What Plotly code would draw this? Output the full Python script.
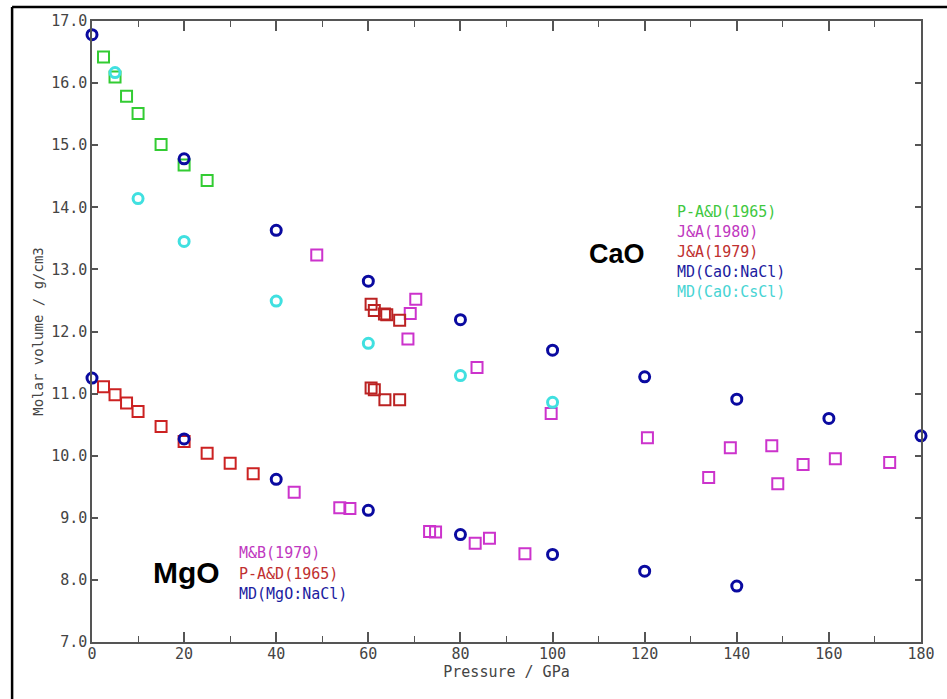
import plotly.graph_objects as go

# ---------------- data ----------------
# CaO
cao_pad1965_p = [2.5, 5, 7.5, 10, 15, 20, 25]
cao_pad1965_v = [16.42, 16.10, 15.79, 15.51, 15.01, 14.68, 14.43]

cao_ja1980_p = [48.8, 68.6, 69.1, 70.3, 83.6, 99.7, 120.6, 133.9, 138.6, 147.6, 148.9, 154.4, 161.4, 173.2]
cao_ja1980_v = [13.23, 11.88, 12.29, 12.52, 11.42, 10.68, 10.29, 9.65, 10.13, 10.16, 9.55, 9.86, 9.95, 9.89]

cao_ja1979_p = [60.6, 61.3, 63.5, 64.0, 66.8, 60.6, 61.3, 63.6, 66.8]
cao_ja1979_v = [12.44, 12.34, 12.28, 12.27, 12.18, 11.09, 11.06, 10.90, 10.90]

cao_md_nacl_p = [0, 20, 40, 60, 80, 100, 120, 140, 160, 180]
cao_md_nacl_v = [16.78, 14.78, 13.63, 12.81, 12.19, 11.70, 11.27, 10.91, 10.60, 10.32]

cao_md_cscl_p = [5, 10, 20, 40, 60, 80, 100]
cao_md_cscl_v = [16.17, 14.14, 13.45, 12.49, 11.81, 11.29, 10.86]

# MgO
mgo_mb1979_p = [43.9, 53.8, 56.0, 73.3, 74.6, 83.2, 86.3, 94.0]
mgo_mb1979_v = [9.41, 9.16, 9.15, 8.78, 8.77, 8.59, 8.67, 8.42]

mgo_pad1965_p = [2.5, 5, 7.5, 10, 15, 20, 25, 30, 35]
mgo_pad1965_v = [11.11, 10.98, 10.85, 10.71, 10.47, 10.23, 10.04, 9.88, 9.71]

mgo_md_nacl_p = [0, 20, 40, 60, 80, 100, 120, 140]
mgo_md_nacl_v = [11.25, 10.27, 9.62, 9.12, 8.73, 8.41, 8.14, 7.90]

x_ticks = [0, 20, 40, 60, 80, 100, 120, 140, 160, 180]
y_ticks = [7, 8, 9, 10, 11, 12, 13, 14, 15, 16, 17]
y_tick_text = [f"{v:.1f}" for v in y_ticks]

GREEN = "#33cc33"
MAGENTA = "#cc33cc"
RED = "#cc2222"
RED2 = "#bb2222"
NAVY = "#0a0aa0"
CYAN = "#40e0e0"

MONO = "DejaVu Sans Mono"

fig = go.Figure()


def squares(p, v, color, name):
    fig.add_trace(go.Scatter(
        x=p, y=v, mode="markers", name=name, showlegend=False,
        marker=dict(symbol="square-open", size=11, color=color,
                    line=dict(width=2, color=color)),
        cliponaxis=False))


def circles(p, v, color, name):
    fig.add_trace(go.Scatter(
        x=p, y=v, mode="markers", name=name, showlegend=False,
        marker=dict(symbol="circle-open", size=10, color=color,
                    line=dict(width=3, color=color)),
        cliponaxis=False))


squares(cao_pad1965_p, cao_pad1965_v, GREEN, "P-A&D(1965) CaO")
squares(cao_ja1980_p, cao_ja1980_v, MAGENTA, "J&A(1980)")
squares(cao_ja1979_p, cao_ja1979_v, RED2, "J&A(1979)")
squares(mgo_mb1979_p, mgo_mb1979_v, MAGENTA, "M&B(1979)")
squares(mgo_pad1965_p, mgo_pad1965_v, RED, "P-A&D(1965) MgO")
circles(cao_md_cscl_p, cao_md_cscl_v, CYAN, "MD(CaO:CsCl)")
circles(cao_md_nacl_p, cao_md_nacl_v, NAVY, "MD(CaO:NaCl)")
circles(mgo_md_nacl_p, mgo_md_nacl_v, NAVY, "MD(MgO:NaCl)")

# text labels acting as legends
cao_legend = [("P-A&D(1965)", "#3fc83f"), ("J&A(1980)", "#c038c0"),
              ("J&A(1979)", "#c03030"), ("MD(CaO:NaCl)", "#1c1ca0"),
              ("MD(CaO:CsCl)", "#48d4d4")]
for i, (t, c) in enumerate(cao_legend):
    fig.add_annotation(x=(676 - 92) / 830, y=(642 - (211 + 20 * i)) / 623,
                       xref="paper", yref="paper", text=t, showarrow=False,
                       xanchor="left", yanchor="middle",
                       font=dict(family=MONO, size=15, color=c))

mgo_legend = [("M&B(1979)", "#c038c0"), ("P-A&D(1965)", "#c03030"),
              ("MD(MgO:NaCl)", "#1c1ca0")]
for i, (t, c) in enumerate(mgo_legend):
    fig.add_annotation(x=(237 - 92) / 830, y=(642 - (553 + 20.5 * i)) / 623,
                       xref="paper", yref="paper", text=t, showarrow=False,
                       xanchor="left", yanchor="middle",
                       font=dict(family=MONO, size=15, color=c))

fig.add_annotation(x=(588 - 92) / 830, y=(642 - 253) / 623, xref="paper", yref="paper",
                   text="<b>CaO</b>", showarrow=False, xanchor="left", yanchor="middle",
                   font=dict(family="Liberation Sans", size=27, color="black"))
fig.add_annotation(x=(151 - 92) / 830, y=(642 - 572) / 623, xref="paper", yref="paper",
                   text="<b>MgO</b>", showarrow=False, xanchor="left", yanchor="middle",
                   font=dict(family="Liberation Sans", size=30, color="black"))

# outer frame (left and top lines)
fig.add_shape(type="line", xref="paper", yref="paper",
              x0=(12 - 92) / 830, x1=(12 - 92) / 830,
              y0=(642 - 5) / 623, y1=(642 - 705) / 623,
              line=dict(color="black", width=2.5))
fig.add_shape(type="line", xref="paper", yref="paper",
              x0=(12 - 92) / 830, x1=(955 - 92) / 830,
              y0=(642 - 5) / 623, y1=(642 - 5) / 623,
              line=dict(color="black", width=2.5))

AX = "#555555"
fig.update_xaxes(range=[0, 180], tickvals=x_ticks, ticks="inside", ticklen=10,
                 tickwidth=1.5, tickcolor=AX, showline=True, linecolor=AX, linewidth=1.5,
                 mirror="ticks", showgrid=False, zeroline=False, ticklabelstandoff=-3,
                 minor=dict(dtick=10, ticks="inside", ticklen=6, tickwidth=1.2,
                            tickcolor=AX, showgrid=False),
                 tickfont=dict(family=MONO, size=15, color="#444444"),
                 title=dict(text="Pressure / GPa", standoff=0,
                            font=dict(family=MONO, size=15, color="#444444")))
fig.update_yaxes(range=[7, 17], tickvals=y_ticks, ticktext=y_tick_text,
                 ticks="inside", ticklen=6, tickwidth=1.5, tickcolor=AX,
                 showline=True, linecolor=AX, linewidth=1.5, mirror="ticks",
                 showgrid=False, zeroline=False,
                 tickfont=dict(family=MONO, size=15, color="#444444"),
                 title=dict(text="Molar volume / g/cm3", standoff=4,
                            font=dict(family=MONO, size=14, color="#444444")))

fig.update_layout(width=947, height=699, margin=dict(l=92, r=25, t=19, b=57),
                  plot_bgcolor="white", paper_bgcolor="white", showlegend=False)

fig.write_html("out.html")
